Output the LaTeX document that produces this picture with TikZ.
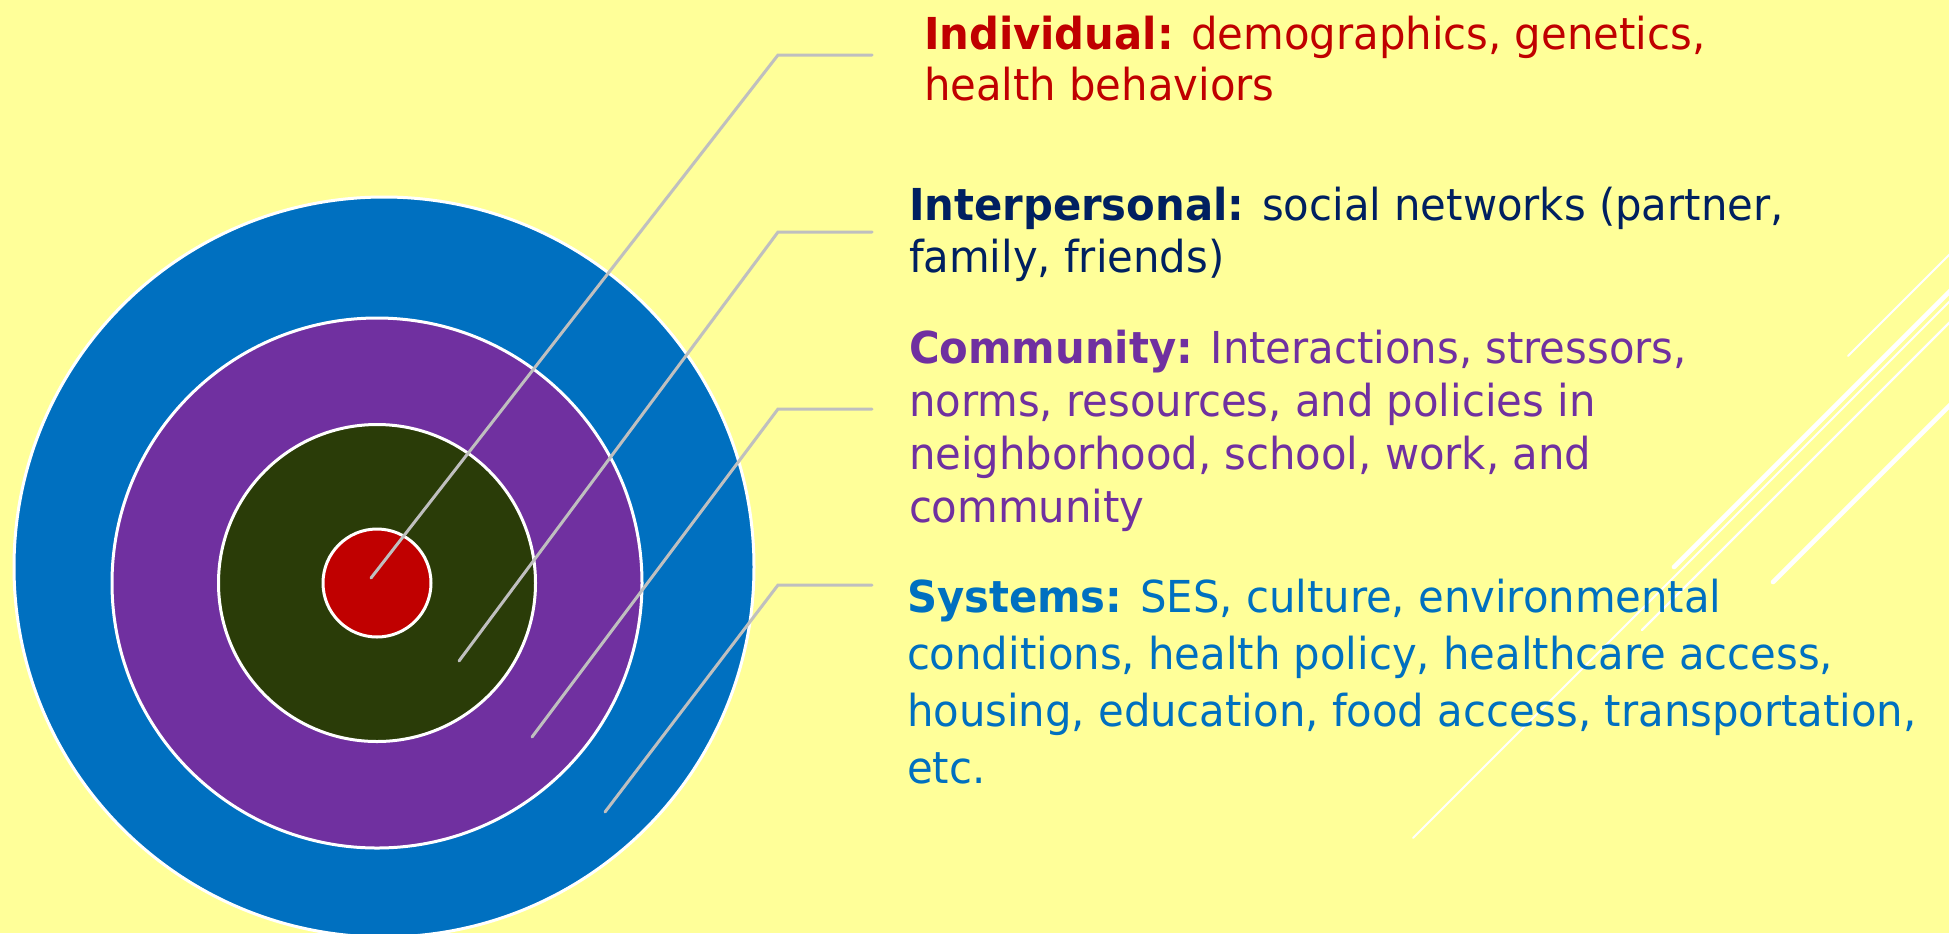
\documentclass[tikz,border=0pt]{standalone}
\usepackage{fontspec}
\setmainfont{DejaVu Sans Condensed}[BoldFont={DejaVu Sans Condensed Bold}, FakeStretch=1.055]
\definecolor{bgyellow}{HTML}{FFFF99}
\definecolor{cblue}{HTML}{0070C0}
\definecolor{cpurple}{HTML}{7030A0}
\definecolor{cgreen}{HTML}{2A3C08}
\definecolor{cred}{HTML}{C00000}
\definecolor{cnavy}{HTML}{002060}
\definecolor{leader}{HTML}{BFBFBF}
\tikzset{
  ring/.style={circle, draw=white, line width=1.5pt, inner sep=0pt, outer sep=0pt},
  leaderline/.style={draw=leader, line width=1.5pt, line cap=round},
  % anchored at the baseline of the last line of each block
  label/.style={anchor=base west, align=left, inner sep=0pt, outer sep=0pt},
  deco/.style={draw=white, line cap=round},
}
\begin{document}
\begin{tikzpicture}[x=0.5pt, y=-0.5pt]
  % page and background
  \useasboundingbox (0,0) rectangle (1949,933);
  \fill[bgyellow] (0,0) rectangle (1949,933);

  % white diagonal strokes at the right edge
  \begin{scope}
    \clip (0,0) rectangle (1949,933);
    \draw[deco, line width=1pt]   (1848,356) -- (2000,204);
    \draw[deco, line width=2.3pt] (1674,567) -- (2000,241);
    \draw[deco, line width=1pt]   (1413,838) -- (2000,251);
    \draw[deco, line width=1.2pt] (1642,630) -- (2000,272);
    \draw[deco, line width=2.3pt] (1773,582) -- (2000,355);
  \end{scope}

  % concentric levels
  \node[ring, fill=cblue,   minimum size=370pt]   (sys)   at (384,567) {};
  \node[ring, fill=cpurple, minimum size=265pt]   (comm)  at (377,583) {};
  \node[ring, fill=cgreen,  minimum size=158.5pt] (inter) at (377,583) {};
  \node[ring, fill=cred,    minimum size=54pt]    (indiv) at (377,583) {};

  % descriptions
  \node[label, text=cred, font=\fontsize{22}{25.5}\selectfont] (tIndiv) at (924,100)
    {\textbf{Individual:} demographics, genetics,\\health behaviors};
  \node[label, text=cnavy, font=\fontsize{22}{26}\selectfont] (tInter) at (909,272)
    {\textbf{Interpersonal:} social networks (partner,\\family, friends)};
  \node[label, text=cpurple, font=\fontsize{22}{26.5}\selectfont] (tComm) at (909,522)
    {\textbf{Community:} Interactions, stressors,\\norms, resources, and policies in\\neighborhood, school, work, and\\community};
  \node[label, text=cblue, font=\fontsize{22}{28.5}\selectfont] (tSys) at (907,783)
    {\textbf{Systems:} SES, culture, environmental\\conditions, health policy, healthcare access,\\housing, education, food access, transportation,\\etc.};

  % leader lines: start inside a ring, bend, run towards the text
  \coordinate (s1) at (371,578);  \coordinate (e1) at (778,55);  \coordinate (f1) at (872,55);
  \coordinate (s2) at (459,661);  \coordinate (e2) at (778,232); \coordinate (f2) at (872,232);
  \coordinate (s3) at (532,737);  \coordinate (e3) at (778,409); \coordinate (f3) at (872,409);
  \coordinate (s4) at (605,812);  \coordinate (e4) at (778,585); \coordinate (f4) at (872,585);
  \draw[leaderline] (s1) -- (e1) -- (f1);
  \draw[leaderline] (s2) -- (e2) -- (f2);
  \draw[leaderline] (s3) -- (e3) -- (f3);
  \draw[leaderline] (s4) -- (e4) -- (f4);
\end{tikzpicture}
\end{document}
